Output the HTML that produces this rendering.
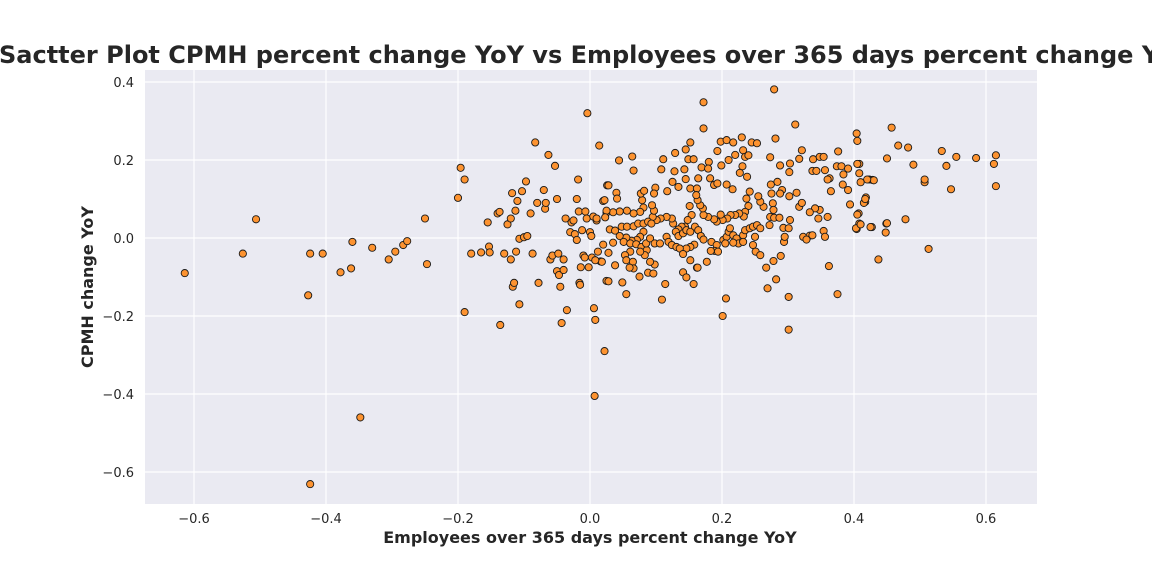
<!DOCTYPE html>
<html><head><meta charset="utf-8"><style>
html,body{margin:0;padding:0;background:#fff;width:1152px;height:576px;overflow:hidden}
svg{display:block;font-family:"DejaVu Sans","Liberation Sans",sans-serif}
</style></head><body>
<svg id="chart" width="1152" height="576" viewBox="0 0 1152 576">
<rect x="0" y="0" width="1152" height="576" fill="#fff"/>
<text x="-1" y="63" font-size="24" font-weight="bold" fill="#262626">Sactter Plot CPMH percent change YoY vs Employees over 365 days percent change YoY</text>
<rect x="145" y="70" width="892" height="434" fill="#eaeaf2"/>
<g id="grid"></g>
<g id="ticks"></g>
<g id="points"></g>
<text x="590" y="543" font-size="16" font-weight="bold" fill="#262626" text-anchor="middle">Employees over 365 days percent change YoY</text>
<text x="0" y="0" font-size="16" font-weight="bold" fill="#262626" text-anchor="middle" transform="translate(93,287) rotate(-90)">CPMH change YoY</text>
</svg>
<script>
const xTicks=[-0.6,-0.4,-0.2,0.0,0.2,0.4,0.6];
const xTickLabels=["\u22120.6","\u22120.4","\u22120.2","0.0","0.2","0.4","0.6"];
const yTicks=[0.4,0.2,0.0,-0.2,-0.4,-0.6];
const yTickLabels=["0.4","0.2","0.0","\u22120.2","\u22120.4","\u22120.6"];
const xVals=[-0.614,-0.526,-0.506,-0.427,-0.424,-0.424,-0.405,-0.378,-0.362,-0.36,-0.348,-0.33,-0.305,-0.295,-0.283,-0.277,-0.25,-0.247,-0.2,-0.196,-0.19,-0.19,-0.18,-0.165,-0.155,-0.153,-0.152,-0.14,-0.137,-0.136,-0.13,-0.125,-0.12,-0.12,-0.118,-0.117,-0.115,-0.113,-0.112,-0.11,-0.107,-0.107,-0.103,-0.1,-0.097,-0.095,-0.09,-0.087,-0.083,-0.08,-0.078,-0.07,-0.068,-0.067,-0.063,-0.06,-0.057,-0.053,-0.05,-0.05,-0.048,-0.047,-0.045,-0.043,-0.04,-0.04,-0.037,-0.035,-0.03,-0.028,-0.025,-0.023,-0.02,-0.02,-0.018,-0.017,-0.016,-0.015,-0.014,-0.012,-0.01,-0.008,-0.007,-0.005,-0.004,-0.002,0,0.002,0.003,0.005,0.006,0.007,0.008,0.01,0.012,0.016,0.02,0.022,0.025,0.025,0.026,
0.279,0.172,0.172,0.311,0.014,0.044,0.064,0.066,0.111,0.108,0.129,0.128,0.145,0.152,0.149,0.157,0.143,0.145,0.125,0.117,0.134,0.152,0.162,0.164,0.169,0.180,0.179,0.182,0.188,0.193,0.198,0.207,0.217,0.230,0.245,0.253,0.193,0.199,0.210,0.220,0.232,0.235,0.240,0.231,0.227,0.238,0.207,0.216,0.273,0.281,0.288,0.303,0.302,0.317,0.321,0.338,0.348,0.354,0.376,0.374,0.381,0.391,0.404,0.405,0.408,0.408,0.423,0.428,0.450,0.337,0.343,0.356,0.363,0.365,0.384,0.383,0.391,0.394,0.418,0.417,0.407,0.408,0.404,0.427,0.449,0.448,0.437,0.362,0.375,0.301,0.282,0.269,0.267,0.278,0.289,0.294,0.295,0.323,0.333,0.337,0.328,0.354,0.356,0.360,0.348,0.341,0.346,0.333,0.317,0.321,0.313,0.302,0.291,0.288,0.284,0.274,0.275,0.277,0.278,0.273,0.272,0.279,0.287,0.293,0.301,0.303,0.263,0.258,0.255,0.242,0.237,0.240,0.235,0.233,0.226,0.220,0.213,0.208,0.201,0.198,0.192,0.188,0.179,0.172,0.171,0.167,0.163,0.161,0.151,0.154,0.148,0.144,0.139,0.134,0.130,0.126,0.124,0.116,0.107,0.101,0.095,0.097,0.094,0.081,0.079,0.077,0.082,0.099,0.097,0.076,0.066,0.056,0.045,0.035,0.025,0.023,0.010,0.030,0.038,0.048,0.056,0.066,0.073,0.081,0.088,0.093,0.081,0.076,0.071,0.063,0.055,0.045,0.051,0.061,0.070,0.078,0.086,0.085,0.091,0.098,0.106,0.116,0.119,0.124,0.131,0.134,0.141,0.146,0.152,0.159,0.164,0.168,0.172,0.158,0.152,0.146,0.136,0.141,0.152,0.162,0.177,0.184,0.192,0.189,0.183,0.194,0.202,0.207,0.210,0.212,0.217,0.222,0.225,0.232,0.235,0.242,0.247,0.253,0.258,0.250,0.247,0.251,0.258,0.232,0.217,0.205,0.061,0.053,0.055,0.065,0.066,0.060,0.075,0.088,0.096,0.098,0.091,0.083,0.076,0.028,0.020,0.035,0.038,0.018,0.008,0.028,0.049,0.055,0.109,0.114,0.141,0.146,0.157,0.163,0.206,0.201,0.301,0.022,0.028,0.040,0.041,
0.457,0.467,0.478,0.482,0.49,0.507,0.507,0.513,0.533,0.54,0.547,0.555,0.585,0.612,0.615,0.615,0.45,0.425,0.43,0.42,0.415,0.417,0.41,0.405,0.405,0.403,0.41,0.36];
const yVals=[-0.09,-0.04,0.048,-0.147,-0.04,-0.631,-0.04,-0.088,-0.078,-0.01,-0.46,-0.025,-0.055,-0.035,-0.018,-0.008,0.05,-0.067,0.103,0.18,0.15,-0.19,-0.04,-0.037,0.04,-0.022,-0.037,0.063,0.067,-0.223,-0.04,0.035,0.05,-0.055,0.115,-0.125,-0.115,0.07,-0.035,0.095,-0.002,-0.17,0.12,0.002,0.145,0.005,0.063,-0.04,0.245,0.09,-0.115,0.123,0.075,0.09,0.213,-0.055,-0.045,0.185,0.1,-0.085,-0.04,-0.095,-0.125,-0.218,-0.082,-0.055,0.05,-0.185,0.015,0.04,0.045,0.01,0.1,-0.005,0.15,0.068,-0.115,-0.12,-0.075,0.02,-0.045,-0.05,0.068,0.05,0.32,-0.075,0.015,0.005,-0.05,0.055,-0.18,-0.405,-0.21,0.045,-0.035,-0.06,0.095,-0.29,0.065,-0.11,0.135,
0.381,0.348,0.281,0.291,0.237,0.199,0.209,0.173,0.202,0.176,0.218,0.171,0.227,0.245,0.202,0.202,0.176,0.151,0.144,0.120,0.131,0.127,0.127,0.153,0.181,0.195,0.178,0.153,0.136,0.140,0.247,0.251,0.245,0.258,0.245,0.243,0.223,0.186,0.200,0.213,0.225,0.208,0.212,0.184,0.167,0.157,0.137,0.125,0.207,0.255,0.186,0.191,0.169,0.203,0.225,0.202,0.208,0.208,0.222,0.184,0.184,0.178,0.268,0.249,0.190,0.166,0.150,0.149,0.204,0.172,0.172,0.174,0.153,0.120,0.163,0.137,0.123,0.086,0.104,0.093,0.063,0.037,0.023,0.028,0.037,0.014,-0.055,-0.072,-0.144,-0.151,-0.106,-0.129,-0.076,-0.059,-0.046,-0.010,0.003,0.003,0.006,0.007,-0.004,0.018,0.003,0.054,0.072,0.076,0.050,0.066,0.080,0.090,0.116,0.107,0.123,0.114,0.144,0.137,0.114,0.089,0.072,0.054,0.033,0.052,0.052,0.026,0.025,0.046,0.080,0.093,0.107,0.119,0.101,0.082,0.067,0.055,0.063,0.059,0.059,0.050,0.046,0.060,0.042,0.048,0.054,0.059,0.076,0.084,0.097,0.110,0.082,0.059,0.046,0.029,0.029,0.022,0.016,0.037,0.050,0.054,0.050,0.046,0.054,0.070,0.084,0.078,0.097,0.114,0.121,0.129,0.114,0.067,0.063,0.070,0.068,0.066,0.070,0.053,0.050,0.022,0.019,0.029,0.029,0.030,0.037,0.037,0.042,0.037,0.016,0.003,-0.005,-0.007,0.001,0.005,-0.010,-0.014,-0.016,-0.023,-0.031,-0.014,-0.001,-0.014,-0.014,0.003,-0.010,-0.018,-0.023,0.005,0.012,0.020,0.016,0.029,0.020,0.005,-0.004,-0.017,-0.023,-0.027,-0.027,-0.041,-0.057,-0.076,-0.061,-0.010,-0.018,-0.033,-0.033,-0.035,-0.005,0.003,0.016,0.025,0.007,-0.001,-0.014,0.007,0.020,0.025,0.029,0.033,0.025,0.003,-0.018,-0.035,-0.044,-0.010,-0.012,-0.014,-0.035,-0.044,-0.057,-0.061,-0.078,-0.076,-0.099,-0.089,-0.091,-0.068,-0.061,-0.044,-0.035,-0.038,-0.017,-0.012,-0.070,-0.061,-0.057,-0.111,-0.114,-0.144,-0.158,-0.118,-0.088,-0.101,-0.118,-0.076,-0.155,-0.200,-0.235,0.097,0.135,0.116,0.101,
0.283,0.237,0.048,0.232,0.188,0.143,0.15,-0.028,0.223,0.185,0.125,0.208,0.205,0.19,0.212,0.133,0.038,0.028,0.148,0.15,0.09,0.1,0.143,0.19,0.06,0.025,0.035,0.15];
const NS="http://www.w3.org/2000/svg";
const X0=145,X1=1037,Y0=70,Y1=504;
function xs(v){return 590+v*660;}
function ys(v){return 238-v*390;}
const grid=document.getElementById('grid'),ticks=document.getElementById('ticks'),pts=document.getElementById('points');
xTicks.forEach((t,i)=>{
 const l=document.createElementNS(NS,'line');
 l.setAttribute('x1',xs(t));l.setAttribute('x2',xs(t));l.setAttribute('y1',Y0);l.setAttribute('y2',Y1);
 l.setAttribute('stroke','#fff');l.setAttribute('stroke-width','1.2');
 
 
 grid.appendChild(l);
 const tx=document.createElementNS(NS,'text');
 tx.setAttribute('x',xs(t));tx.setAttribute('y',523);tx.setAttribute('font-size','13');tx.setAttribute('fill','#262626');tx.setAttribute('text-anchor','middle');
 tx.textContent=xTickLabels[i];
 
 
 ticks.appendChild(tx);
});
yTicks.forEach((t,i)=>{
 const l=document.createElementNS(NS,'line');
 l.setAttribute('x1',X0);l.setAttribute('x2',X1);l.setAttribute('y1',ys(t));l.setAttribute('y2',ys(t));
 l.setAttribute('stroke','#fff');l.setAttribute('stroke-width','1.2');
 
 
 grid.appendChild(l);
 const tx=document.createElementNS(NS,'text');
 tx.setAttribute('x',134);tx.setAttribute('y',ys(t)+5);tx.setAttribute('font-size','13');tx.setAttribute('fill','#262626');tx.setAttribute('text-anchor','end');
 tx.textContent=yTickLabels[i];
 
 
 ticks.appendChild(tx);
});
const n=Math.min(xVals.length,yVals.length);
for(let i=0;i<n;i++){
 const c=document.createElementNS(NS,'circle');
 c.setAttribute('cx',xs(xVals[i]));c.setAttribute('cy',ys(yVals[i]));c.setAttribute('r','3.6');
 c.setAttribute('fill','#fd9330');c.setAttribute('stroke','#1a1a1a');c.setAttribute('stroke-width','0.9');
 
 
 pts.appendChild(c);
}
</script>
</body></html>
